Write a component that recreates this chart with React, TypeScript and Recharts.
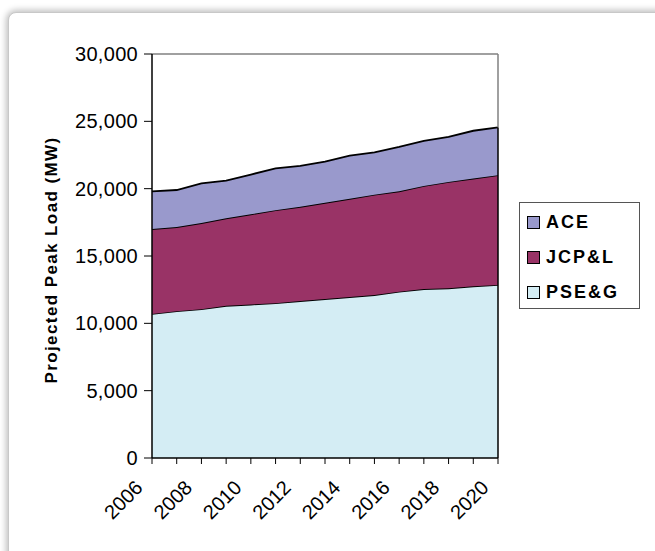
import React from 'react';
import { AreaChart, Area, XAxis, YAxis, ReferenceLine, Label } from 'recharts';

const years = ['2006', '2007', '2008', '2009', '2010', '2011', '2012', '2013', '2014', '2015', '2016', '2017', '2018', '2019', '2020'];
const pseg = [10700, 10900, 11050, 11300, 11400, 11500, 11650, 11800, 11950, 12100, 12350, 12550, 12600, 12750, 12850];
const jcpl = [6300, 6250, 6400, 6500, 6700, 6900, 7000, 7150, 7300, 7450, 7450, 7650, 7900, 8000, 8150];
const ace = [2800, 2750, 2950, 2800, 2950, 3100, 3050, 3050, 3200, 3150, 3300, 3350, 3350, 3550, 3550];
const yTicks = [0, 5000, 10000, 15000, 20000, 25000, 30000];

const series = [
  { key: 'ACE', color: '#9999CC' },
  { key: 'JCP&L', color: '#993366' },
  { key: 'PSE&G', color: '#D4EDF4' },
];

const data = years.map((year, i) => ({
  year,
  'PSE&G': pseg[i],
  'JCP&L': jcpl[i],
  ACE: ace[i],
}));

const last = years.length - 1;
const lastTotal = pseg[last] + jcpl[last] + ace[last];

const font = '"Liberation Sans", Arial, sans-serif';

const XTick = (props: any) => {
  const { x, y, payload, index } = props;
  if (index % 2 !== 0) return <g />;
  return (
    <g transform={`translate(${x - 13},${y + 18})`}>
      <text
        x={0}
        y={0}
        textAnchor="end"
        dominantBaseline="central"
        transform="rotate(-45)"
        fontSize={20}
        fontFamily={font}
        fill="#000"
      >
        {payload.value}
      </text>
    </g>
  );
};

const YLabel = (props: any) => {
  const vb = props.viewBox;
  const cy = vb.y + vb.height / 2 + 4;
  return (
    <text
      x={51}
      y={cy}
      transform={`rotate(-90, 51, ${cy})`}
      textAnchor="middle"
      dominantBaseline="central"
      fontSize={17}
      fontWeight="bold"
      fontFamily={font}
      letterSpacing={1.4}
      fill="#000"
    >
      Projected Peak Load (MW)
    </text>
  );
};

export default function App() {
  return (
    <div style={{ position: 'absolute', left: 0, top: 0, width: 655, height: 551, overflow: 'hidden', background: '#fff' }}>
      <div
        style={{
          position: 'absolute',
          left: 8,
          top: 12,
          width: 680,
          height: 580,
          border: '1px solid #c8c8c8',
          borderRadius: 8,
          boxShadow: '0 0 6px 2px rgba(0,0,0,0.25)',
          background: '#fff',
        }}
      />
      <div style={{ position: 'absolute', left: 0, top: 0 }}>
        <AreaChart width={655} height={551} data={data} margin={{ top: 54, right: 157, bottom: 0, left: 0 }}>
          <XAxis
            dataKey="year"
            interval={0}
            height={93}
            tick={<XTick />}
            tickSize={6}
            axisLine={{ stroke: '#000', strokeWidth: 1.5 }}
            tickLine={{ stroke: '#000' }}
          />
          <YAxis
            width={152}
            domain={[0, 30000]}
            ticks={yTicks}
            interval={0}
            tickSize={8}
            tickMargin={6}
            tickFormatter={(v: number) => v.toLocaleString('en-US')}
            tick={{ fontSize: 20, fill: '#000', fontFamily: font, letterSpacing: 0.3 }}
            axisLine={{ stroke: '#000', strokeWidth: 1.5 }}
            tickLine={{ stroke: '#000' }}
          >
            <Label content={<YLabel />} />
          </YAxis>
          <Area
            type="linear"
            dataKey="PSE&G"
            stackId="1"
            stroke="#000"
            strokeWidth={1.8}
            fill="#D4EDF4"
            fillOpacity={1}
            isAnimationActive={false}
          />
          <Area
            type="linear"
            dataKey="JCP&L"
            stackId="1"
            stroke="#000"
            strokeWidth={1.8}
            fill="#993366"
            fillOpacity={1}
            isAnimationActive={false}
          />
          <Area
            type="linear"
            dataKey="ACE"
            stackId="1"
            stroke="#000"
            strokeWidth={1.8}
            fill="#9999CC"
            fillOpacity={1}
            isAnimationActive={false}
          />
          <ReferenceLine y={30000} stroke="#808080" strokeWidth={1.5} />
          <ReferenceLine
            segment={[{ x: years[last], y: lastTotal }, { x: years[last], y: 30000 }]}
            stroke="#808080"
            strokeWidth={1.5}
          />
          <ReferenceLine
            segment={[{ x: years[last], y: 0 }, { x: years[last], y: lastTotal }]}
            stroke="#000"
            strokeWidth={1.5}
          />
        </AreaChart>
      </div>
      <div
        style={{
          position: 'absolute',
          left: 519,
          top: 202,
          width: 121,
          height: 107,
          border: '1px solid #555',
          background: '#fff',
          boxSizing: 'border-box',
          fontFamily: font,
        }}
      >
        {series.map((s, i) => (
          <div
            key={s.key}
            style={{
              position: 'absolute',
              left: 7,
              top: 9 + i * 35,
              display: 'flex',
              alignItems: 'center',
              height: 20,
            }}
          >
            <span
              style={{
                display: 'inline-block',
                width: 11,
                height: 11,
                background: s.color,
                border: '1px solid #000',
                marginRight: 6,
              }}
            />
            <span style={{ fontSize: 18, fontWeight: 'bold', letterSpacing: 2 }}>{s.key}</span>
          </div>
        ))}
      </div>
    </div>
  );
}
